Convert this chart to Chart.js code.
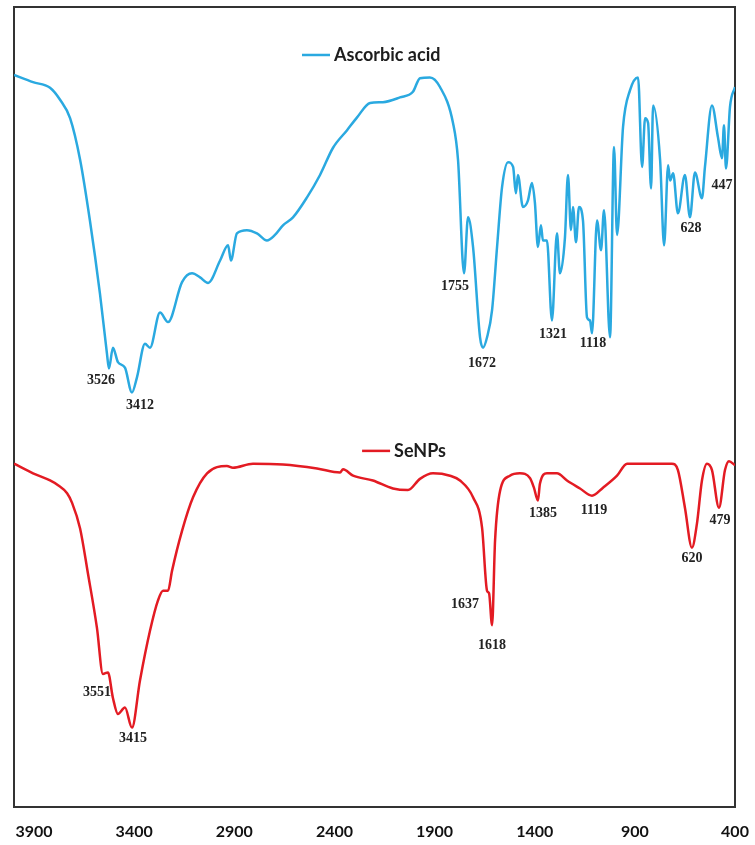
<!DOCTYPE html>
<html>
<head>
<meta charset="utf-8">
<script src="https://cdn.jsdelivr.net/npm/chart.js@4.4.1/dist/chart.umd.min.js"></script>
<style>
  body { margin: 0; background: #fff; }
  #wrap { width: 755px; height: 845px; }
</style>
</head>
<body>
<div id="wrap"><canvas id="myChart"></canvas></div>
<script>
// FTIR spectra, wavenumber (cm-1) and transmittance (arbitrary %, offset curves)
const ascorbicWave = [4000, 3905, 3820, 3770, 3720, 3670, 3621, 3571, 3536, 3526, 3506, 3481, 3446, 3411, 3386, 3346, 3321, 3271, 3231, 3161, 3111, 3071, 3031, 2971, 2931, 2917, 2887, 2837, 2787, 2737, 2697, 2657, 2607, 2537, 2472, 2407, 2337, 2287, 2222, 2158, 2073, 2008, 1973, 1923, 1873, 1808, 1783, 1753, 1733, 1708, 1673, 1658, 1638, 1613, 1588, 1563, 1533, 1508, 1494, 1484, 1459, 1434, 1414, 1399, 1384, 1369, 1359, 1339, 1314, 1289, 1274, 1249, 1234, 1219, 1209, 1194, 1179, 1159, 1139, 1124, 1114, 1089, 1069, 1054, 1024, 1004, 989, 959, 924, 884, 864, 849, 834, 819, 809, 774, 754, 734, 724, 709, 685, 650, 625, 600, 565, 550, 515, 485, 465, 455, 445, 425, 400];
const ascorbicT = [91.5, 90.6, 89.9, 88.4, 86.1, 80.9, 73.3, 64.2, 56.7, 54.8, 57.4, 55.6, 54.9, 51.8, 53.7, 57.9, 57.4, 61.8, 60.6, 65.6, 66.7, 66.2, 65.5, 68.3, 70.2, 68.3, 71.7, 72.1, 71.7, 70.8, 71.5, 72.7, 73.7, 76.2, 79.0, 82.4, 84.6, 86.2, 88.0, 88.1, 88.7, 89.4, 91.1, 91.2, 90.0, 85.5, 80.9, 66.7, 73.7, 70.0, 58.7, 57.4, 58.7, 62.1, 70.0, 77.5, 80.6, 80.0, 76.7, 79.0, 75.0, 75.8, 78.0, 75.5, 70.0, 72.7, 70.8, 70.8, 60.8, 71.7, 66.7, 71.2, 79.0, 72.1, 75.0, 70.6, 75.0, 73.3, 61.2, 60.8, 59.2, 73.3, 69.6, 74.6, 58.7, 82.5, 71.5, 85.0, 89.6, 91.2, 80.0, 86.1, 85.5, 77.3, 87.7, 80.9, 70.2, 80.2, 78.3, 79.2, 74.2, 79.0, 73.7, 79.3, 76.1, 80.0, 87.7, 83.7, 81.1, 85.2, 79.8, 87.5, 90.0];

const senpsWave = [4000, 3905, 3820, 3780, 3735, 3710, 3670, 3631, 3586, 3556, 3531, 3506, 3481, 3446, 3411, 3371, 3321, 3281, 3256, 3231, 3211, 3161, 3106, 3036, 2937, 2907, 2807, 2657, 2487, 2372, 2357, 2307, 2208, 2108, 2033, 1973, 1908, 1823, 1773, 1708, 1663, 1638, 1628, 1613, 1598, 1573, 1524, 1474, 1424, 1404, 1384, 1374, 1339, 1289, 1239, 1174, 1114, 1059, 989, 939, 839, 715, 685, 650, 615, 590, 565, 540, 515, 480, 450, 430, 400];
const senpsT = [42.9, 41.7, 40.8, 40.2, 39.2, 38.0, 34.8, 29.2, 22.4, 16.6, 16.8, 13.6, 11.6, 12.4, 9.9, 15.8, 22.0, 25.8, 27.0, 27.0, 29.5, 34.5, 38.7, 41.7, 42.6, 42.4, 42.9, 42.8, 42.3, 41.8, 42.2, 41.4, 40.8, 39.8, 39.6, 41.0, 41.7, 41.4, 40.8, 38.7, 34.9, 27.0, 26.7, 22.7, 33.3, 39.5, 41.4, 41.7, 41.1, 39.9, 38.3, 40.4, 41.7, 41.7, 40.8, 39.8, 38.9, 39.9, 41.4, 42.9, 42.9, 42.9, 42.1, 37.4, 32.4, 35.4, 40.8, 42.9, 42.1, 37.4, 42.1, 43.2, 42.7];

const tickValues = [3900, 3400, 2900, 2400, 1900, 1400, 900, 400];

// peak annotations: text, and where the text sits (wavenumber, transmittance)
const ascorbicPeaks = ['3526', '3412', '1755', '1672', '1321', '1118', '628', '447'];
const ascorbicPeakAt = [[3566, 53.3], [3371, 50.2], [1798, 65.1], [1663, 55.4], [1309, 59.1], [1109, 57.9], [620, 72.3], [465, 77.7]];
const senpsPeaks = ['3551', '3415', '1637', '1618', '1385', '1119', '620', '479'];
const senpsPeakAt = [[3586, 14.3], [3406, 8.5], [1748, 25.3], [1613, 20.2], [1359, 36.7], [1104, 37.0], [615, 31.0], [475, 35.8]];

const seriesNames = ['Ascorbic acid', 'SeNPs'];
const seriesColors = ['#2aa9e0', '#e31b23'];
// in-plot legend anchor (wavenumber at line start, transmittance)
const legendAt = [[2562, 94.0], [2262, 44.5]];

const toPoints = (w, t) => w.map((x, i) => ({ x: x, y: t[i] }));

// draws the in-plot legends and peak labels
const annotatePlugin = {
    id: 'annotate',
    afterDatasetsDraw(chart) {
        const ctx = chart.ctx;
        const xs = chart.scales.x;
        const ys = chart.scales.y;
        ctx.save();

        // legends
        legendAt.forEach((p, i) => {
            const x0 = xs.getPixelForValue(p[0]);
            const y0 = ys.getPixelForValue(p[1]);
            ctx.strokeStyle = seriesColors[i];
            ctx.lineWidth = 2.5;
            ctx.beginPath();
            ctx.moveTo(x0, y0);
            ctx.lineTo(x0 + 28, y0);
            ctx.stroke();
            ctx.fillStyle = '#1d1d1d';
            ctx.font = 'bold 18px Lato';
            ctx.textAlign = 'left';
            ctx.textBaseline = 'middle';
            ctx.fillText(seriesNames[i], x0 + 32, y0);
        });

        // peak labels
        ctx.font = 'bold 14px "Liberation Serif"';
        ctx.fillStyle = '#222';
        ctx.textAlign = 'center';
        ctx.textBaseline = 'middle';
        const drawPeaks = (names, at) => {
            names.forEach((txt, i) => {
                ctx.fillText(txt, xs.getPixelForValue(at[i][0]), ys.getPixelForValue(at[i][1]));
            });
        };
        drawPeaks(ascorbicPeaks, ascorbicPeakAt);
        drawPeaks(senpsPeaks, senpsPeakAt);

        // top edge of the frame
        const a = chart.chartArea;
        ctx.strokeStyle = '#333';
        ctx.lineWidth = 2;
        ctx.beginPath();
        ctx.moveTo(a.left, a.top);
        ctx.lineTo(a.right, a.top);
        ctx.stroke();
        ctx.restore();
    }
};

const ctx = document.getElementById('myChart').getContext('2d');

const myChart = new Chart(ctx, {
    type: 'line',
    data: {
        datasets: [
            {
                label: seriesNames[0],
                data: toPoints(ascorbicWave, ascorbicT),
                borderColor: seriesColors[0],
                borderWidth: 2.5,
                pointRadius: 0,
                tension: 0.3,
                cubicInterpolationMode: 'monotone'
            },
            {
                label: seriesNames[1],
                data: toPoints(senpsWave, senpsT),
                borderColor: seriesColors[1],
                borderWidth: 2.5,
                pointRadius: 0,
                tension: 0.3,
                cubicInterpolationMode: 'monotone'
            }
        ]
    },
    options: {
        responsive: true,
        maintainAspectRatio: false,
        animation: false,
        layout: { padding: { left: 14, right: 20, top: 7, bottom: -11 } },
        plugins: {
            legend: { display: false },
            tooltip: { enabled: false }
        },
        scales: {
            x: {
                type: 'linear',
                reverse: true,
                min: 400,
                max: 4000,
                afterBuildTicks: (scale) => {
                    scale.ticks = tickValues.map((v) => ({ value: v }));
                },
                // let the end labels hang over the frame, as in the original
                afterFit: (scale) => {
                    scale.paddingLeft = 0;
                    scale.paddingRight = 0;
                },
                ticks: {
                    autoSkip: false,
                    maxRotation: 0,
                    padding: 15,
                    color: '#111',
                    font: { family: 'Lato', size: 16, weight: 'bold' },
                    callback: (value) => String(value)
                },
                grid: { display: false, drawTicks: false },
                border: { color: '#333', width: 2 }
            },
            y: {
                min: 0,
                max: 100,
                ticks: { display: false },
                grid: { display: false, drawTicks: false },
                border: { color: '#333', width: 2 }
            },
            y2: {
                position: 'right',
                min: 0,
                max: 100,
                ticks: { display: false },
                grid: { display: false, drawTicks: false },
                border: { color: '#333', width: 2 }
            }
        }
    },
    plugins: [annotatePlugin]
});
</script>
</body>
</html>
